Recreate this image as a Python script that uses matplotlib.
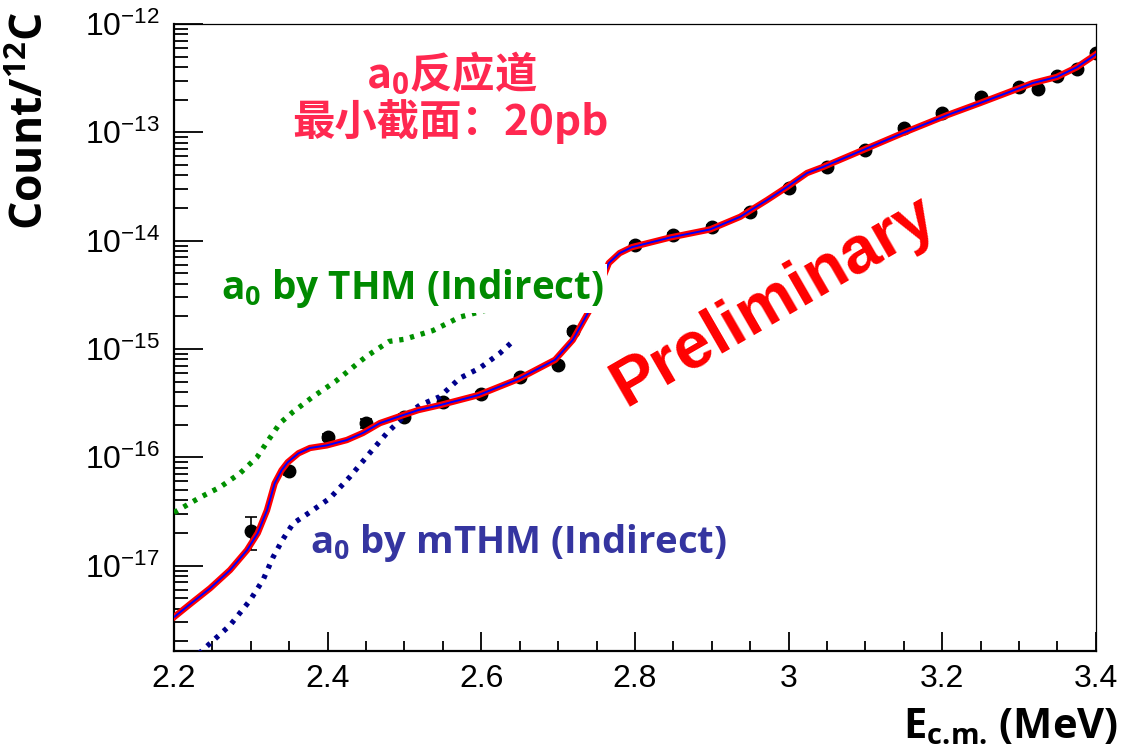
import matplotlib
matplotlib.use("Agg")
import matplotlib.pyplot as plt
from matplotlib.ticker import MultipleLocator, FixedLocator, LogLocator, NullFormatter, FuncFormatter
import numpy as np

plt.rcParams['font.family'] = 'Liberation Sans'
plt.rcParams['mathtext.fontset'] = 'custom'
plt.rcParams['mathtext.rm'] = 'Open Sans:bold'
plt.rcParams['mathtext.bf'] = 'Open Sans:bold'

# measured yield per 12C
e_data = [2.30, 2.35, 2.40, 2.45, 2.50, 2.55, 2.60, 2.65, 2.70, 2.72,
          2.80, 2.85, 2.90, 2.95, 3.00, 3.05, 3.10, 3.15, 3.20, 3.25,
          3.30, 3.325, 3.35, 3.375, 3.40]
count_data = [2.09e-17, 7.45e-17, 1.55e-16, 2.07e-16, 2.35e-16, 3.24e-16, 3.84e-16, 5.5e-16, 7.1e-16, 1.46e-15,
              9.1e-15, 1.13e-14, 1.34e-14, 1.84e-14, 3.06e-14, 4.78e-14, 6.87e-14, 1.1e-13, 1.5e-13, 2.12e-13,
              2.62e-13, 2.5e-13, 3.3e-13, 3.85e-13, 5.4e-13]
count_err = [0.7e-17, 0.6e-17, 1.0e-17, 2.0e-17, 1.5e-17, 2e-17, 2e-17, 3e-17, 3e-17, 0.8e-16,
             4e-16, 5e-16, 6e-16, 8e-16, 1.2e-15, 2e-15, 3e-15, 5e-15, 6e-15, 9e-15,
             1.1e-14, 1.0e-14, 1.3e-14, 1.5e-14, 2.2e-14]

# fitted yield curve
e_fit = [2.200, 2.221, 2.247, 2.273, 2.295, 2.309, 2.321, 2.331, 2.340, 2.348,
         2.362, 2.377, 2.399, 2.425, 2.446, 2.468, 2.498, 2.518, 2.546, 2.596,
         2.648, 2.696, 2.719, 2.741, 2.755, 2.766, 2.780, 2.796, 2.846, 2.898,
         2.937, 2.947, 2.972, 2.998, 3.024, 3.045, 3.097, 3.149, 3.207, 3.249,
         3.318, 3.349, 3.375, 3.396, 3.400]
count_fit = [3.35e-18, 4.42e-18, 6.19e-18, 9.12e-18, 1.39e-17, 2.0e-17, 3.24e-17, 5.75e-17, 7.59e-17, 9.0e-17,
             1.09e-16, 1.22e-16, 1.29e-16, 1.445e-16, 1.68e-16, 2.07e-16, 2.45e-16, 2.73e-16, 3.03e-16, 3.75e-16,
             5.27e-16, 7.94e-16, 1.21e-15, 2.29e-15, 3.98e-15, 6.21e-15, 7.67e-15, 8.71e-15, 1.07e-14, 1.27e-14,
             1.66e-14, 1.84e-14, 2.37e-14, 3.13e-14, 4.21e-14, 4.79e-14, 6.87e-14, 9.86e-14, 1.445e-13, 1.86e-13,
             2.85e-13, 3.24e-13, 3.98e-13, 5.01e-13, 5.25e-13]

# a0 channel from THM
e_thm = [2.200, 2.234, 2.260, 2.286, 2.308, 2.321, 2.338, 2.355, 2.381, 2.410,
         2.450, 2.480, 2.500, 2.537, 2.572, 2.607, 2.640]
count_thm = [3.09e-17, 4.27e-17, 5.31e-17, 7.14e-17, 1.0e-16, 1.38e-16, 2.07e-16, 2.63e-16, 3.63e-16, 5.01e-16,
             8.51e-16, 1.175e-15, 1.23e-15, 1.48e-15, 1.97e-15, 2.29e-15, 2.63e-15]

# a0 channel from mTHM
e_mthm = [2.225, 2.234, 2.247, 2.273, 2.299, 2.316, 2.329, 2.341, 2.355, 2.377,
          2.403, 2.429, 2.455, 2.477, 2.498, 2.520, 2.546, 2.572, 2.598, 2.624, 2.644]
count_mthm = [1.26e-18, 1.58e-18, 1.92e-18, 2.82e-18, 4.79e-18, 7.41e-18, 1.20e-17, 1.72e-17, 2.45e-17, 3.12e-17,
              4.20e-17, 6.61e-17, 1.10e-16, 1.67e-16, 2.34e-16, 3.03e-16, 3.63e-16, 5.37e-16, 6.67e-16, 9.12e-16, 1.23e-15]

y_major = [1e-17, 1e-16, 1e-15, 1e-14, 1e-13, 1e-12]

fig = plt.figure(figsize=(11.24, 7.49), dpi=100)
ax = fig.add_axes([0.1548, 0.1308, 0.8202, 0.8372])

ax.errorbar(e_data, count_data, yerr=count_err, fmt='o', color='black',
            markersize=9, elinewidth=1.2, capsize=4, capthick=1.2, zorder=2)
ax.plot(e_thm, count_thm, color='#009000', lw=3.8, ls=(0, (0.8, 1.3)), zorder=3)
ax.plot(e_mthm, count_mthm, color='#00008C', lw=3.8, ls=(0, (0.8, 1.3)), zorder=3)
ax.plot(e_fit, count_fit, color='#FF0000', lw=4.6, zorder=4)
ax.plot(e_fit, count_fit, color='#0000FF', lw=1.4, zorder=5)

ax.set_yscale('log')
ax.set_xlim(2.2, 3.4)
ax.set_ylim(1.63e-18, 1e-12)

ax.xaxis.set_major_locator(MultipleLocator(0.2))
ax.xaxis.set_minor_locator(MultipleLocator(0.05))
ax.xaxis.set_major_formatter(FuncFormatter(lambda v, p: '%g' % round(v, 2)))
ax.yaxis.set_major_locator(FixedLocator(y_major))
ax.yaxis.set_minor_locator(LogLocator(base=10, subs=np.arange(2, 10), numticks=20))
ax.yaxis.set_minor_formatter(NullFormatter())

ax.tick_params(axis='both', which='both', direction='in', top=False, right=False,
               labelsize=23, width=1.3)
ax.tick_params(axis='x', which='major', length=14, pad=9)
ax.tick_params(axis='x', which='minor', length=7)
ax.tick_params(axis='y', which='major', length=21, pad=10)
ax.tick_params(axis='y', which='minor', length=10)
ax.spines['left'].set_linewidth(1.6)
ax.spines['bottom'].set_linewidth(1.6)
ax.spines['top'].set_linewidth(0.9)
ax.spines['right'].set_linewidth(0.9)

# annotations
fig.text(0.028, 0.984, r'Count/$^{\mathbf{12}}$C', rotation=90, ha='center', va='top',
         family='Open Sans', weight='bold', fontsize=32)
fig.text(0.995, 0.015, r'E$_{\text{c.m.}}$ (MeV)', ha='right', va='baseline',
         family='Open Sans', weight='bold', fontsize=30)

red_cn = '#FF2850'
fig.text(0.402, 0.902, r'a$_\mathbf{0}$反应道', ha='center', va='center', color=red_cn,
         family=['Noto Sans CJK SC', 'DejaVu Sans'], weight='bold', fontsize=30.5)
fig.text(0.401, 0.838, '最小截面：20pb', ha='center', va='center', color=red_cn,
         family=['Noto Sans CJK SC', 'DejaVu Sans'], weight='bold', fontsize=30.5)

fig.text(0.367, 0.615, r'a$_\mathbf{0}$ by THM (Indirect)', ha='center', va='center',
         color='#008A00', family='Open Sans', weight='bold', fontsize=27.8,
         bbox=dict(facecolor='white', edgecolor='none', pad=2))
fig.text(0.461, 0.275, r'a$_\mathbf{0}$ by mTHM (Indirect)', ha='center', va='center',
         color='#3535A0', family='Open Sans', weight='bold', fontsize=27.5)

fig.text(0.689, 0.598, 'Preliminary', ha='center', va='center', rotation=30,
         rotation_mode='anchor', color='#FF0000', family='Liberation Sans',
         weight='bold', fontsize=48)

fig.savefig('out.png', dpi=100)
